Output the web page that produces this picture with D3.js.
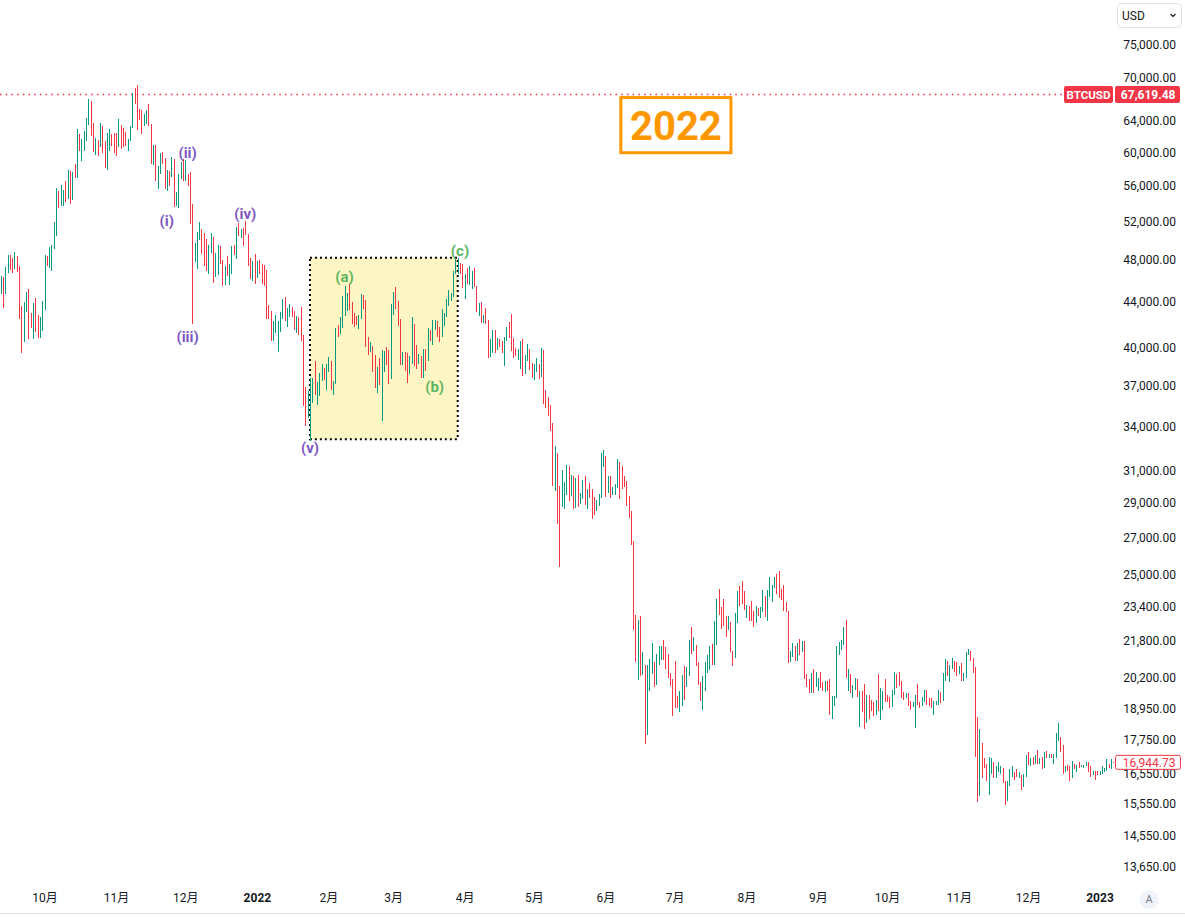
<!DOCTYPE html>
<html>
<head>
<meta charset="utf-8">
<script src="https://cdn.jsdelivr.net/npm/d3@7"></script>
<style>
  body { margin: 0; background: #fff; }
  svg { display: block; font-family: Roboto, "Noto Sans CJK SC", sans-serif; }
</style>
</head>
<body>
<div id="chart"></div>
<script>
// daily bars, [high, low, close]; open = previous close
const startDate = "2021-09-12";
const firstOpen = 45160;

const sep21 = [[46460,44750,46060],[46350,43400,44960],[47250,44750,47110],[48450,46700,48140],[48490,47050,47760],[48150,46750,47300],[48820,47070,48300],[48370,46850,47250],[47350,42500,42970],[43600,39600,40700],[44000,40500,43560],[44950,43100,44880],[45150,40700,42830],[42970,41700,42720],[43900,40700,43200],[44350,41300,42200],[42800,40800,41050],[42600,40800,41520],[44100,41400,43790]];
const oct21 = [[48450,43300,48150],[48350,47400,47670],[49250,47150,48250],[49500,46900,49250],[51900,49050,51500],[55750,50400,55330],[55330,53400,53800],[56100,53650,53970],[55450,53700,55000],[56550,54100,54660],[57800,54450,57480],[57650,53900,56030],[57600,54300,57380],[58500,56850,57350],[62900,56900,61670],[62350,60200,60880],[61700,58950,61530],[62650,60100,62000],[64450,61350,64280],[67000,63500,66000],[66650,62050,62200],[63700,60000,60690],[61750,59700,61290],[61480,59550,60860],[63700,60700,63080],[63290,59850,60330],[61450,58050,58460],[62450,57850,60600],[62950,60200,62270],[62350,60750,61890],[62450,59950,61320]];
const nov21 = [[62450,59550,61000],[64300,60700,63230],[63500,60400,62950],[63100,60700,61450],[62600,60750,61010],[61600,60100,61530],[63300,61350,63300],[67800,63100,67550],[68550,66350,66950],[69000,62800,64950],[65600,64150,64850],[65450,62300,64150],[64950,63400,64400],[65500,63600,65500],[66300,63400,63600],[63600,58600,60100],[60850,58400,60350],[60950,56500,56900],[58350,55650,58100],[59850,57400,59700],[60050,58500,58700],[59250,55650,56300],[57850,55350,57550],[57700,55900,57150],[59400,57050,58950],[59200,53600,53650],[55300,53650,54750],[57400,53400,57300],[58850,56700,57800],[59200,56550,56950]];
const dec21 = [[59050,56500,57230],[57400,55900,56500],[57600,51700,53600],[53900,42000,49200],[49700,47750,49400],[50900,47100,50550],[51950,50050,50600],[51200,48600,50500],[50800,47350,47650],[50100,46950,47150],[49500,46650,49350],[50750,48700,50100],[50300,45750,46700],[48650,46350,48400],[49500,46550,48900],[49450,47550,47650],[48000,45500,46200],[47350,45550,46850],[48350,46450,46700],[47550,45600,46900],[49350,46650,48950],[49550,48450,48600],[51400,48050,50800],[51850,50450,50400],[51200,50250,50800],[51300,49450,50700],[52050,50500,50650],[50650,47400,47550],[48150,46150,46450],[47900,45950,47100],[48550,45700,46200]];
const jan22 = [[47900,46200,47700],[47950,46650,47300],[47550,45700,46450],[47500,45500,45850],[47050,42500,43450],[43750,42450,43100],[43150,40600,41550],[42300,40550,41700],[42800,41250,41850],[42250,39650,41850],[43100,41300,42750],[44300,42450,43950],[44450,42300,42600],[43450,41750,43100],[43800,42600,43200],[43500,42600,43100],[43200,41550,42250],[42700,41250,42400],[42600,41100,41700],[43500,40550,40700],[41100,35450,36450],[36850,34000,35050],[36550,34600,36250],[37550,32950,36650],[37550,35700,36950],[38900,36300,36850],[37250,35550,37150],[38000,36200,37700],[38650,37350,38150],[38350,37400,37900],[38700,36650,38450]];
const feb22 = [[39250,38050,38750],[38900,36650,36900],[37350,36300,37300],[41700,37100,41550],[41950,40950,41400],[42600,41150,42400],[44500,41700,43850],[45500,42700,44100],[44800,43150,44350],[45800,43250,43550],[43950,42000,42400],[43000,41800,42200],[42750,41900,42100],[42850,41600,42550],[44750,42450,44550],[44600,43350,43900],[44200,40100,40550],[40950,39450,40000],[40450,39650,40100],[40150,38050,38400],[39450,36800,37050],[38450,36400,38250],[39200,37050,37250],[39800,34350,38350],[39700,38050,39250],[40100,38600,39150],[39800,37100,37700],[43800,37500,43200]];
const mar22 = [[44950,42850,44400],[45400,43350,44000],[44100,41850,42450],[42500,38600,39150],[39650,38600,39400],[39650,38100,38400],[39550,37200,38050],[39350,37900,38750],[42600,38650,41950],[42050,38550,39450],[40250,38250,38750],[39500,38650,38850],[39300,37600,37800],[39900,37600,39700],[39900,38150,39300],[41700,38900,41150],[41500,40550,40950],[42350,40200,41800],[42400,41550,42200],[42300,40950,41300],[41750,40500,41000],[43350,40900,42400],[43000,41850,42900],[44250,42600,44000],[45100,43650,44350],[44800,44100,44550],[46900,44450,46850],[48200,46650,47150],[48200,46650,47450],[47700,46600,47100],[47600,45250,45550]];
const apr22 = [[46650,44250,46300],[47200,45650,45800],[47400,45550,46450],[46900,45150,46600],[47150,45400,45500],[45500,43100,43200],[43900,42750,43450],[43950,42150,42250],[42800,42150,42750],[43400,42050,42150],[42400,39200,39500],[40700,39250,40100],[41550,39600,41150],[41500,39600,39950],[40850,39800,40550],[40700,40050,40400],[40600,39550,39700],[40950,38550,40800],[41750,40550,41500],[42200,40850,41350],[42950,39750,40500],[40800,39200,39700],[39950,39300,39450],[39900,39000,39450],[40600,38250,40450],[40750,37750,38100],[39450,37900,39250],[40350,38900,39750],[39900,38200,38600],[38800,37600,37650]];
const may22 = [[38650,37400,38450],[39150,38050,38500],[38650,37500,37700],[40000,37650,39700],[39850,35600,36550],[36650,35300,36000],[36150,34750,35450],[35500,33700,34050],[34250,30050,30100],[32650,29750,31000],[32150,27750,29050],[30050,25400,28950],[31050,28750,29300],[30300,28650,29850],[31400,29500,31300],[31300,29100,29850],[30750,29450,30400],[30700,28650,28700],[30550,28700,30300],[30750,28750,29200],[29600,28950,29450],[30450,29250,30300],[30650,28900,29100],[29850,28650,29650],[30200,29300,29550],[29850,28050,29250],[29350,28300,28600],[29200,28550,29000],[29550,28850,29450],[32200,29300,31700],[32400,31250,31800]];
const jun22 = [[31950,29350,29800],[30650,29600,30450],[30650,29300,29700],[29950,29500,29850],[30150,29500,29900],[31750,29900,31350],[31550,29250,31100],[31300,29850,30200],[30650,29950,30100],[30350,28850,29100],[29450,28100,28400],[28550,26600,26600],[26800,22300,22500],[23000,20850,22150],[22750,20100,22600],[22950,20250,20400],[21300,20300,20450],[20750,17600,19000],[20750,17950,20550],[21000,19650,20700],[21700,20350,20700],[20850,19800,19950],[21200,19900,21100],[21550,20750,21250],[21550,20950,21500],[21850,20950,21050],[21500,20550,20750],[21200,20200,20300],[20400,19850,20100],[20150,18650,19950]];
const jul22 = [[20900,18950,19300],[19450,18950,19250],[19650,18800,19300],[20300,19050,20250],[20700,19300,20200],[20650,19800,20550],[21850,20250,21650],[22450,21200,21600],[21950,21350,21600],[21600,20700,20850],[20850,19900,19950],[20000,19250,19300],[20250,18900,20200],[20850,19650,20550],[21150,20400,20800],[21550,20500,21200],[21650,20750,20800],[22700,20750,22450],[23750,21600,23400],[24250,23000,23250],[23400,22350,23150],[23750,22500,22700],[22950,21950,22450],[22950,22300,22600],[22650,21300,21350],[21350,20700,21250],[23100,21050,22950],[24150,22600,23850],[24400,23450,23800],[24650,23550,23650],[24150,23250,23300]];
const aug22 = [[23500,22850,23300],[23450,22700,22950],[23650,22700,22850],[23200,22450,22600],[23450,22600,23300],[23350,22950,23200],[23400,22850,23200],[24200,23150,23800],[23900,22900,23150],[24200,22700,23950],[24900,23850,23950],[24450,23600,24400],[24900,24300,24450],[25050,24000,24300],[25200,23800,24100],[24250,23700,23850],[24450,23200,23350],[23600,23150,23200],[23200,20800,20850],[21350,20850,21150],[21700,21100,21550],[21550,20900,21400],[21700,20900,21550],[21900,21150,21400],[21800,21300,21550],[21800,20150,20250],[20350,19800,20050],[20150,19550,19550],[20400,19550,20300],[20550,19550,19800],[20450,19800,20050]];
const sep22 = [[20200,19650,20150],[20450,19750,19950],[20000,19650,19850],[20050,19600,20000],[20050,19650,19800],[20150,18700,18800],[19450,18550,19300],[19450,19050,19350],[21550,19350,21400],[21750,21150,21650],[21850,21400,21850],[22450,21600,22400],[22750,20200,20200],[20550,19650,20250],[20350,19550,19700],[19900,19350,19800],[20200,19700,20100],[20150,19400,19400],[19650,18250,19550],[19650,18800,18900],[19950,18150,18500],[19500,18400,19400],[19500,18550,19300],[19300,18850,18950],[19200,18650,18800],[19300,18700,19200],[20350,18850,19100],[19750,18500,19400],[19650,18900,19600],[20150,19200,19400]];
const oct22 = [[19500,19200,19300],[19400,18950,19050],[19700,19000,19650],[20450,19500,20350],[20350,19750,20150],[20450,19850,19950],[20050,19350,19550],[19600,19300,19400],[19550,19350,19450],[19550,19050,19150],[19250,18900,19050],[19200,19000,19150],[19500,18200,19400],[19950,19100,19200],[19200,18950,19050],[19400,19050,19250],[19700,19200,19550],[19700,19100,19350],[19350,19050,19150],[19350,18950,19050],[19250,18700,19200],[19250,19100,19200],[19700,19100,19600],[19600,19150,19350],[20400,19250,20100],[21000,20050,20800],[20900,20250,20300],[20750,20000,20600],[21050,20550,20800],[20900,20450,20650],[20850,20250,20500]];
const nov22 = [[20700,20350,20500],[20800,20050,20150],[20400,20050,20200],[21300,20200,21150],[21450,21150,21300],[21350,20900,20900],[21050,20400,20600],[20650,17150,18550],[18600,15600,15900],[18150,15800,17600],[17650,16400,17050],[17100,16750,16800],[16900,16300,16350],[17150,15850,16600],[17100,16550,16900],[16950,16400,16650],[16800,16400,16700],[16950,16600,16700],[16800,16550,16700],[16750,16250,16300],[16300,15500,15800],[16300,15650,16200],[16700,16150,16600],[16800,16450,16600],[16600,16350,16500],[16700,16450,16450],[16600,16400,16450],[16500,16000,16200],[16550,16100,16450],[17200,16450,17150]];
const dec22 = [[17300,16850,16950],[17100,16800,17100],[17150,16850,16900],[17200,16900,17100],[17400,16900,16950],[17100,16900,17100],[17150,16700,16850],[17300,16750,17250],[17350,17100,17150],[17250,17100,17150],[17250,17100,17100],[17250,16900,17200],[18000,17100,17800],[18400,17700,17800],[17850,17300,17350],[17550,16550,16650],[16800,16600,16800],[16850,16650,16750],[16800,16300,16450],[17000,16400,16900],[16900,16700,16850],[16850,16600,16850],[16950,16750,16800],[16850,16800,16850],[16850,16750,16850],[16950,16800,16900],[16950,16600,16700],[16800,16450,16550],[16650,16500,16650],[16650,16350,16600],[16650,16500,16550]];
const jan23 = [[16650,16500,16600],[16800,16550,16700],[16750,16600,16700],[17050,16650,16900],[16900,16750,16800],[17050,16700,16950],[16960,16930,16944.73]];

const priceTicks = [75000, 70000, 64000, 60000, 56000, 52000, 48000, 44000, 40000, 37000, 34000, 31000, 29000, 27000, 25000, 23400, 21800, 20200, 18950, 17750, 16550, 15550, 14550, 13650];
const monthStarts = ["2021-10-01","2021-11-01","2021-12-01","2022-01-01","2022-02-01","2022-03-01","2022-04-01","2022-05-01","2022-06-01","2022-07-01","2022-08-01","2022-09-01","2022-10-01","2022-11-01","2022-12-01","2023-01-01"];
const monthLabels = ["10月","11月","12月","2022","2月","3月","4月","5月","6月","7月","8月","9月","10月","11月","12月","2023"];

const waveLabels = [
  { text: "(i)",   date: "2021-11-23", price: 52100, color: "#7e57c2" },
  { text: "(ii)",  date: "2021-12-02", price: 59950, color: "#7e57c2" },
  { text: "(iii)", date: "2021-12-02", price: 40950, color: "#7e57c2" },
  { text: "(iv)",  date: "2021-12-27", price: 52860, color: "#7e57c2" },
  { text: "(v)",   date: "2022-01-24", price: 32490, color: "#7e57c2" },
  { text: "(a)",   date: "2022-02-08", price: 46390, color: "#5cb660" },
  { text: "(b)",   date: "2022-03-19", price: 36880, color: "#5cb660" },
  { text: "(c)",   date: "2022-03-30", price: 48960, color: "#5cb660" }
];
const rangeBox = { from: "2022-01-24", to: "2022-03-29", high: 48200, low: 33100 };
const yearBox = { from: "2022-06-07", to: "2022-07-26", high: 67400, low: 59750, text: "2022" };
const refLine = { name: "BTCUSD", price: 67619.48 };
const lastPrice = 16944.73;

const W = 1185, H = 917;
const parse = d3.timeParse("%Y-%m-%d");
const fmt = d3.format(",.2f");
const upColor = "#089981", downColor = "#f23645";

const raw = [].concat(sep21, oct21, nov21, dec21, jan22, feb22, mar22, apr22, may22, jun22, jul22, aug22, sep22, oct22, nov22, dec22, jan23);
const t0 = parse(startDate);
const bars = raw.map((d, i) => ({
  date: d3.timeDay.offset(t0, i),
  open: i === 0 ? firstOpen : raw[i - 1][2],
  high: d[0], low: d[1], close: d[2]
}));

const x = d3.scaleTime()
  .domain([parse("2021-10-01"), parse("2023-01-01")])
  .range([44.5, 1099.5]);
const y = d3.scaleLog()
  .domain([75000, 13650])
  .range([44.5, 866.7]);

const svg = d3.select("#chart").append("svg")
  .attr("width", W)
  .attr("height", H);

svg.append("rect").attr("width", W).attr("height", H).attr("fill", "#fff");

// highlighted range (v) -> (c)
const bx0 = x(parse(rangeBox.from)), bx1 = x(parse(rangeBox.to));
svg.append("rect")
  .attr("x", bx0)
  .attr("y", y(rangeBox.high))
  .attr("width", bx1 - bx0)
  .attr("height", y(rangeBox.low) - y(rangeBox.high))
  .attr("fill", "#fdf5c3")
  .attr("stroke", "#000")
  .attr("stroke-width", 2)
  .attr("stroke-dasharray", "2,3");

// dotted reference line
const ry = Math.round(y(refLine.price)) + 0.5;
svg.append("line")
  .attr("x1", 0).attr("x2", 1064)
  .attr("y1", ry).attr("y2", ry)
  .attr("stroke", downColor)
  .attr("stroke-width", 1.5)
  .attr("stroke-dasharray", "1.5,4.2");

// price bars
svg.append("g")
  .attr("shape-rendering", "crispEdges")
  .selectAll("rect")
  .data(bars)
  .join("rect")
  .attr("x", d => Math.round(x(d.date)))
  .attr("y", d => y(d.high))
  .attr("width", 1)
  .attr("height", d => Math.max(1.5, y(d.low) - y(d.high)))
  .attr("fill", d => d.close >= d.open ? upColor : downColor);

// wave labels
svg.append("g")
  .selectAll("text")
  .data(waveLabels)
  .join("text")
  .attr("x", d => x(parse(d.date)))
  .attr("y", d => y(d.price))
  .attr("dy", "0.35em")
  .attr("text-anchor", "middle")
  .style("font-size", "15px")
  .style("font-weight", "bold")
  .attr("fill", d => d.color)
  .text(d => d.text);

// 2022 box
const yx0 = x(parse(yearBox.from)), yx1 = x(parse(yearBox.to));
const yy0 = y(yearBox.high), yy1 = y(yearBox.low);
svg.append("rect")
  .attr("x", yx0 + 1.5).attr("y", yy0 + 1.5)
  .attr("width", yx1 - yx0 - 3).attr("height", yy1 - yy0 - 3)
  .attr("fill", "#fff")
  .attr("stroke", "#ff9800")
  .attr("stroke-width", 3);
svg.append("text")
  .attr("x", (yx0 + yx1) / 2)
  .attr("y", (yy0 + yy1) / 2)
  .attr("dy", "0.36em")
  .attr("text-anchor", "middle")
  .style("font-size", "40px")
  .style("font-weight", "bold")
  .attr("fill", "#ff9800")
  .text(yearBox.text);

// price scale
const yAxis = svg.append("g")
  .attr("transform", "translate(1176,0)")
  .call(d3.axisLeft(y).tickValues(priceTicks).tickFormat(fmt).tickSize(0).tickPadding(0));
yAxis.select(".domain").remove();
yAxis.selectAll("text")
  .attr("fill", "#131722")
  .style("font-size", "12px")
  .style("font-family", "Roboto, sans-serif");

// reference line label
svg.append("rect")
  .attr("x", 1064).attr("y", ry - 8.5)
  .attr("width", 49).attr("height", 17).attr("rx", 2)
  .attr("fill", downColor);
svg.append("text")
  .attr("x", 1088.5).attr("y", ry).attr("dy", "0.35em")
  .attr("text-anchor", "middle")
  .style("font-size", "11.5px").style("font-weight", "bold")
  .attr("fill", "#fff")
  .text(refLine.name);
svg.append("rect")
  .attr("x", 1115).attr("y", ry - 8.5)
  .attr("width", 65).attr("height", 17).attr("rx", 2)
  .attr("fill", downColor);
svg.append("text")
  .attr("x", 1175.5).attr("y", ry).attr("dy", "0.35em")
  .attr("text-anchor", "end")
  .style("font-size", "12px").style("font-weight", "bold")
  .attr("fill", "#fff")
  .text(fmt(refLine.price));

// last price label
const ly = y(lastPrice);
svg.append("rect")
  .attr("x", 1115.5).attr("y", ly - 7)
  .attr("width", 65).attr("height", 14).attr("rx", 2)
  .attr("fill", "#fff")
  .attr("stroke", downColor);
svg.append("text")
  .attr("x", 1175.5).attr("y", ly).attr("dy", "0.35em")
  .attr("text-anchor", "end")
  .style("font-size", "12px")
  .attr("fill", downColor)
  .text(fmt(lastPrice));

// time scale
const xAxis = svg.append("g")
  .attr("transform", "translate(0,897.5)")
  .call(d3.axisBottom(x)
    .tickValues(monthStarts.map(parse))
    .tickFormat((d, i) => monthLabels[i])
    .tickSize(0).tickPadding(0));
xAxis.select(".domain").remove();
xAxis.selectAll("text")
  .attr("dy", "0.35em")
  .attr("fill", "#131722")
  .style("font-size", "12px")
  .style("font-family", "Roboto, 'Noto Sans CJK SC', sans-serif")
  .style("font-weight", (d, i) => /^\d{4}$/.test(monthLabels[i]) ? "bold" : "normal");

svg.append("line")
  .attr("x1", 0).attr("x2", W)
  .attr("y1", 913.5).attr("y2", 913.5)
  .attr("stroke", "#e0e3eb");

// currency dropdown
svg.append("rect")
  .attr("x", 1117.5).attr("y", 3.5)
  .attr("width", 64).attr("height", 24).attr("rx", 4)
  .attr("fill", "#fff").attr("stroke", "#e0e3eb");
svg.append("text")
  .attr("x", 1122).attr("y", 15.5).attr("dy", "0.35em")
  .style("font-size", "12px")
  .attr("fill", "#131722")
  .text("USD");
svg.append("path")
  .attr("d", "M1170.5,14 L1173,16.5 L1175.5,14")
  .attr("fill", "none")
  .attr("stroke", "#131722")
  .attr("stroke-width", 1.2);

// auto-scale button
svg.append("circle")
  .attr("cx", 1149).attr("cy", 899.5).attr("r", 9.5)
  .attr("fill", "#f0f3fa");
svg.append("text")
  .attr("x", 1149).attr("y", 899.5).attr("dy", "0.35em")
  .attr("text-anchor", "middle")
  .style("font-size", "11px")
  .attr("fill", "#787b86")
  .text("A");
</script>
</body>
</html>
